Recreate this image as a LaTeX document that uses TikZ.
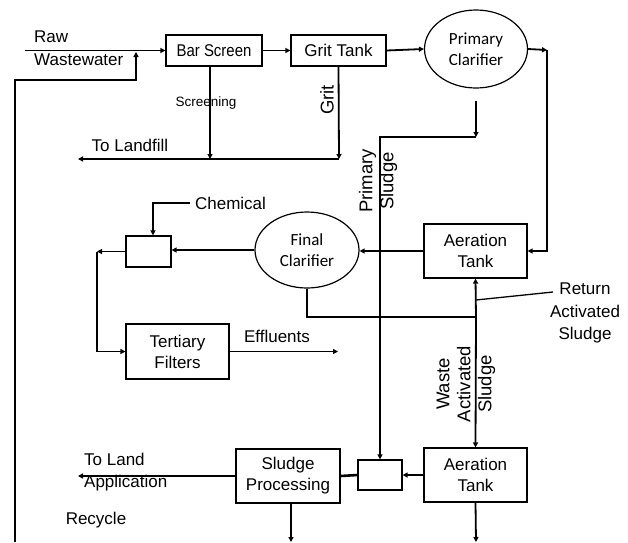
\documentclass[tikz,border=0pt]{standalone}
\usepackage{fontspec}
\setmainfont{Liberation Sans}
\newfontfamily\calfont{Carlito}
\usetikzlibrary{shapes.geometric,arrows.meta}
\begin{document}
\begin{tikzpicture}[x=1pt,y=-1pt,
  flow/.style={line width=1.8pt,-{Triangle[length=5pt,width=5pt]}},
  plain/.style={line width=1.8pt},
  box/.style={draw,line width=1.2pt,rectangle,inner sep=0,align=center,font=\fontsize{17}{21}\selectfont},
  oval/.style={draw,line width=1.2pt,ellipse,inner sep=0,align=center,font=\calfont\fontsize{17}{21}\selectfont},
  lbl/.style={inner sep=0,align=center,font=\fontsize{17}{22.5}\selectfont},
  rlbl/.style={inner sep=0,align=center,rotate=90,font=\fontsize{18.5}{21}\selectfont},
]
\useasboundingbox (0,0) rectangle (628,542);
\fill[white] (0,0) rectangle (628,542);

% process nodes
\node[box,minimum width=96pt,minimum height=31pt] (bar) at (214,50.5) {\scalebox{0.88}[1]{Bar Screen}};
\node[box,minimum width=95pt,minimum height=31pt] (grit) at (338.5,50.5) {Grit Tank};
\node[oval,minimum width=103pt,minimum height=78pt] (pc) at (476,49) {Primary\\Clarifier};
\node[box,minimum width=103pt,minimum height=54pt] (at1) at (475.5,251) {Aeration\\Tank};
\node[oval,minimum width=104pt,minimum height=76pt] (fc) at (307,250) {Final\\Clarifier};
\node[box,minimum width=45pt,minimum height=31pt] (mix1) at (148.5,251.5) {};
\node[box,minimum width=103pt,minimum height=55pt] (tf) at (177.5,351.5) {Tertiary\\Filters};
\node[box,minimum width=104pt,minimum height=54pt] (sp) at (288,476) {Sludge\\Processing};
\node[box,minimum width=44pt,minimum height=30pt] (mix2) at (380,475) {};
\node[box,minimum width=103pt,minimum height=54pt] (at2) at (475.5,475) {Aeration\\Tank};

% free ends
\coordinate (rawin) at (25,50.5);
\coordinate (recb) at (15,542);
\coordinate (reca) at (15,80);
\coordinate (recc) at (136,80);
\coordinate (recd) at (136,52);
\coordinate (c1) at (547,50);
\coordinate (scr) at (210,159);
\coordinate (grt) at (339,159);
\coordinate (lf) at (78,159);
\coordinate (ps0) at (476,101);
\coordinate (ps1) at (476,137);
\coordinate (ps2) at (380,137);
\coordinate (ch) at (190,203);
\coordinate (ch2) at (153,203);
\coordinate (lt) at (97,251.5);
\coordinate (eff) at (338,351.5);
\coordinate (rj) at (476,317);
\coordinate (rp) at (476,300);
\coordinate (rq) at (553,292);
\coordinate (tla) at (78,476);
\coordinate (spb) at (291,542);
\coordinate (atb) at (476,542);

% connectors
\draw[flow] (rawin) -- (bar.west);
\draw[flow] (recb) -- (reca) -- (recc) -- (recd);
\draw[flow] (bar.east) -- (grit.west);
\draw[flow] (grit.east) -- (pc.west);
\draw[flow] (pc.east) -- (c1);
\draw[flow] (c1) |- (at1.east);
\draw[flow] (bar.south -| scr) -- (scr);
\draw[flow] (grit.south) -- (grt);
\draw[flow] (grt) -- (lf);
\draw[flow] (ps0) -- (ps1);
\draw[flow] (ps1) -- (ps2) -- (mix2.north);
\draw[flow] (at1.west) -- (at1.west -| fc.east);
\draw[flow] (fc.west) -- (fc.west -| mix1.east);
\draw[flow] (ch) -- (ch2) -- (ch2 |- mix1.north);
\draw[flow] (mix1.west) -- (lt);
\draw[flow] (lt) |- (tf.west);
\draw[flow] (tf.east) -- (eff);
\draw[plain] (fc.south) |- (rj);
\draw[flow] (rj) -- (at1.south);
\draw[flow] (rj) -- (at2.north);
\draw[line width=1.3pt] (rp) -- (rq);
\draw[flow] (at2.west) -- (mix2.east);
\draw[line width=2.6pt] (mix2.west) -- (sp.east);
\draw[flow] (sp.west) -- (tla);
\draw[flow] (sp.south -| spb) -- (spb);
\draw[flow] (at2.south) -- (atb);

% labels
\node[lbl,align=left,anchor=west] (raw) at (34,48) {Raw\\Wastewater};
\node[lbl,font=\fontsize{13.5}{16}\selectfont] (scrl) at (206,103) {Screening};
\node[rlbl] (gritl) at (327,100) {Grit};
\node[lbl] (lfl) at (130,145) {To Landfill};
\node[rlbl] (psl) at (378,181) {Primary\\Sludge};
\node[lbl] (chl) at (230.5,203.5) {Chemical};
\node[lbl] (effl) at (277,336) {Effluents};
\node[lbl] (rasl) at (585,313) {Return\\Activated\\Sludge};
\node[rlbl] (wasl) at (466,384) {Waste\\Activated\\Sludge};
\node[lbl,align=left,anchor=west] (tlal) at (84,472) {To Land\\Application};
\node[lbl] (recl) at (96,520) {Recycle};
\end{tikzpicture}
\end{document}
